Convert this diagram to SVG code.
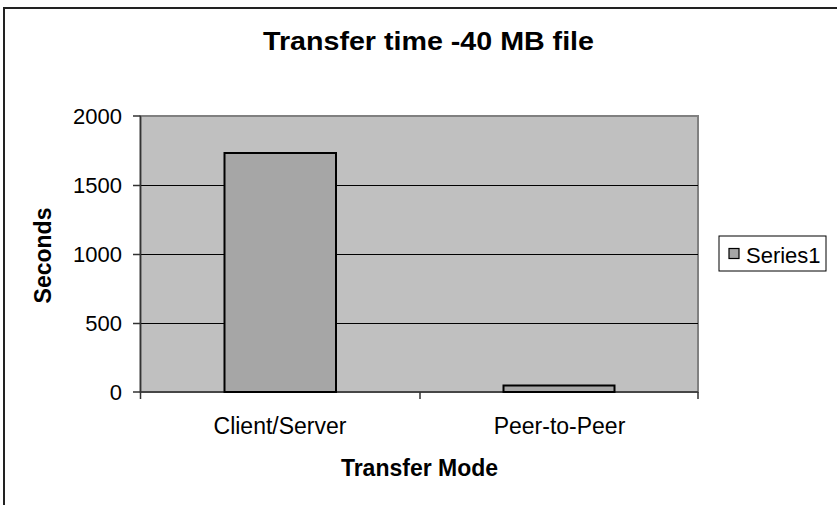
<svg xmlns="http://www.w3.org/2000/svg" width="837" height="505" viewBox="0 0 837 505">
<style>
text{font-family:"Liberation Sans",Arial,sans-serif;fill:#000}
.tick{font-size:22px;text-anchor:end}
.cat{font-size:23px;text-anchor:middle}
.bold{font-weight:bold}
.grid{stroke:#000;stroke-width:1}
.axis{stroke:#333;stroke-width:1.5;fill:none}
.bar{fill:#a6a6a6;stroke:#000;stroke-width:2}
</style>
<rect x="0" y="0" width="837" height="505" fill="#fff"/>
<path d="M4,505 V8 H837" fill="none" stroke="#222" stroke-width="2"/>
<g id="title"><text class="bold" x="428.5" y="50" font-size="26" text-anchor="middle" textLength="331" lengthAdjust="spacingAndGlyphs">Transfer time -40 MB file</text></g>
<g id="plot">
<rect x="140.5" y="116" width="557.5" height="276" fill="#c0c0c0" stroke="#808080" stroke-width="2"/>
<line class="grid" x1="140.5" y1="185.5" x2="698" y2="185.5"/>
<line class="grid" x1="140.5" y1="254.5" x2="698" y2="254.5"/>
<line class="grid" x1="140.5" y1="323.5" x2="698" y2="323.5"/>
</g>
<g id="axes">
<path class="axis" d="M140.5,116 V392 M133,116 H140.5 M133,185.5 H140.5 M133,254.5 H140.5 M133,323.5 H140.5 M133,392 H698 M140.5,392 V399 M420,392 V399 M698,392 V399"/>
<text class="tick" x="122" y="124">2000</text>
<text class="tick" x="122" y="193">1500</text>
<text class="tick" x="122" y="262">1000</text>
<text class="tick" x="122" y="331">500</text>
<text class="tick" x="122" y="400">0</text>
<text class="cat" x="280" y="434">Client/Server</text>
<text class="cat" x="559.5" y="434">Peer-to-Peer</text>
<text class="bold" x="419.5" y="476" font-size="23" text-anchor="middle">Transfer Mode</text>
<text class="bold" font-size="23" text-anchor="middle" transform="translate(51,255.5) rotate(-90)">Seconds</text>
</g>
<g id="bar-client-server"><rect class="bar" x="224.5" y="153" width="111.5" height="239"/></g>
<g id="bar-peer-to-peer"><rect class="bar" x="503.5" y="385.5" width="111" height="6.5"/></g>
<g id="legend">
<rect x="719" y="236" width="107" height="35" fill="#fff" stroke="#000" stroke-width="1"/>
<rect x="729" y="248.5" width="10" height="10" fill="#a6a6a6" stroke="#000" stroke-width="1.2"/>
<text x="746" y="263" font-size="22">Series1</text>
</g>
</svg>
